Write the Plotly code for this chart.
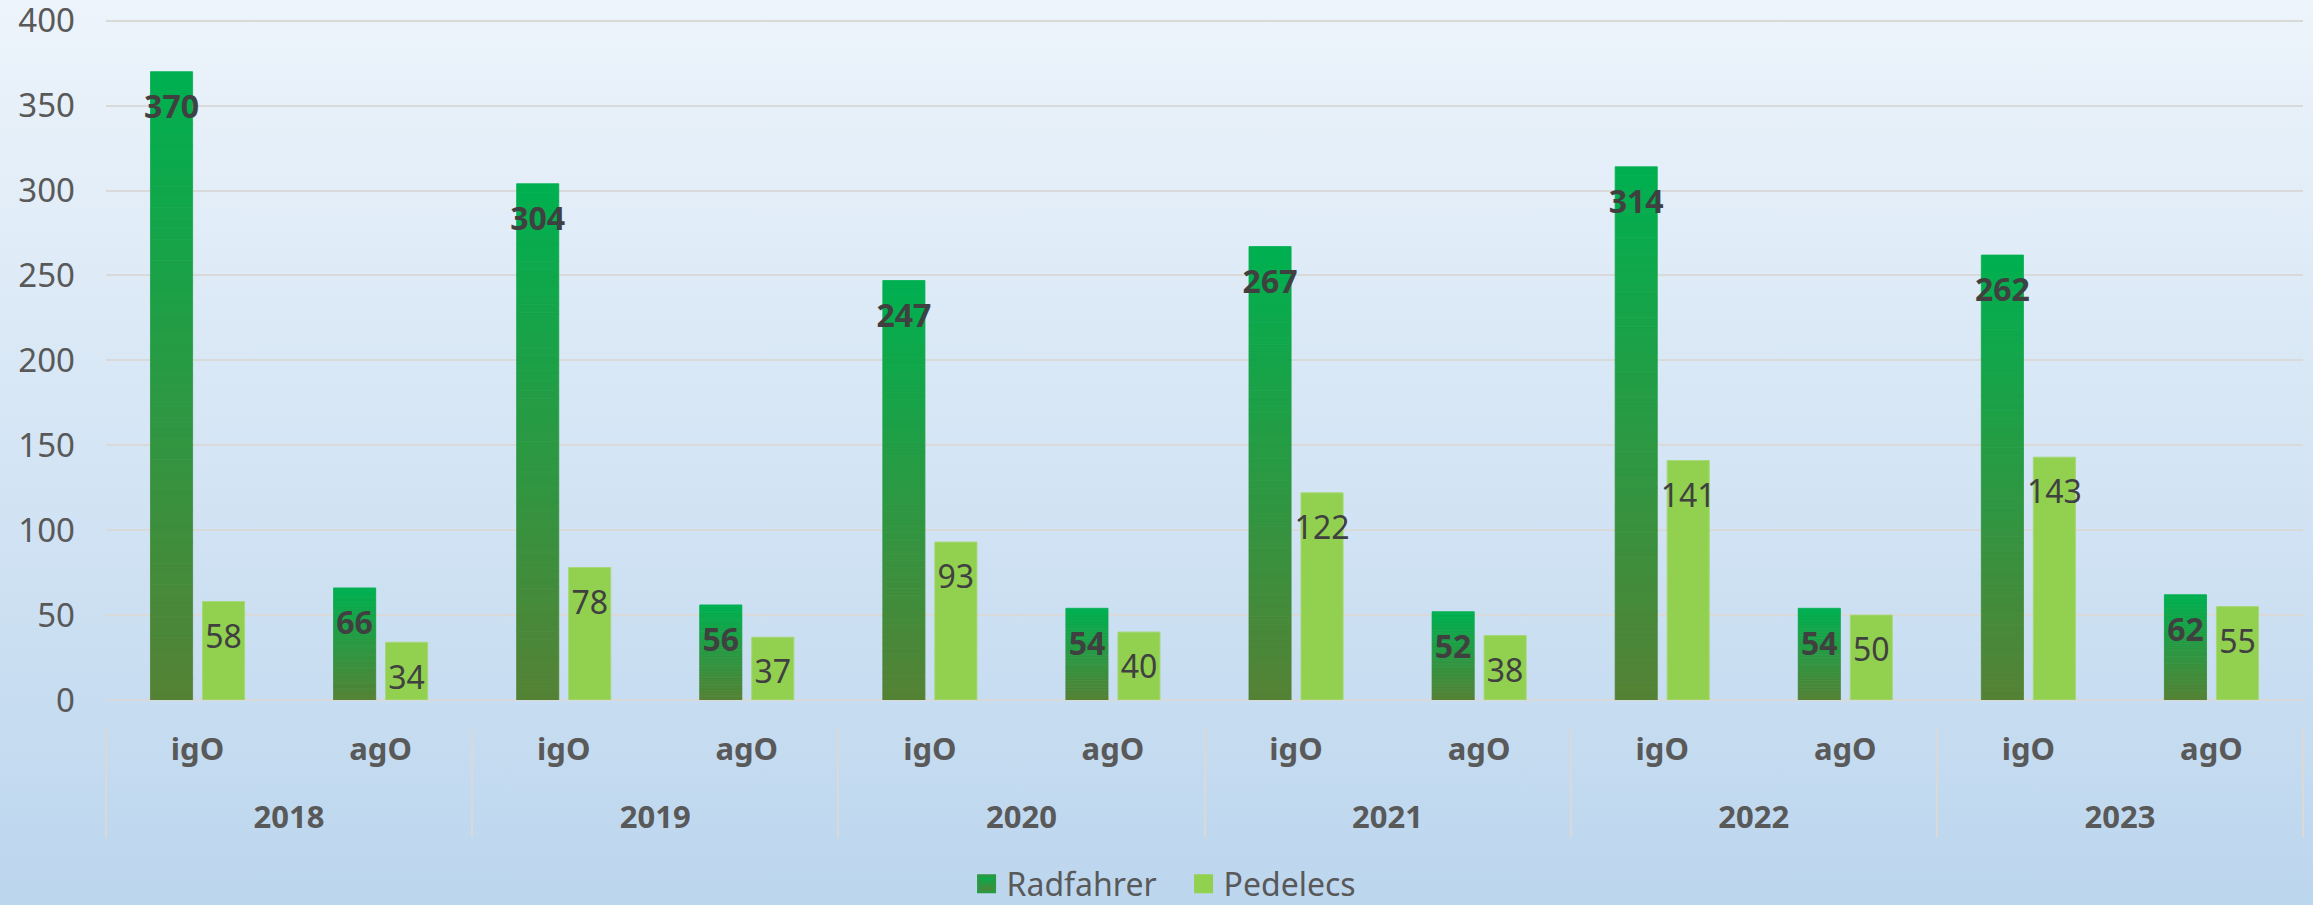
import base64
import plotly.graph_objects as go

# ---------------- data ----------------
years = ["2018", "2019", "2020", "2021", "2022", "2023"]
locations = ["igO", "agO"]
radfahrer = [370, 66, 304, 56, 247, 54, 267, 52, 314, 54, 262, 62]
pedelecs = [58, 34, 78, 37, 93, 40, 122, 38, 141, 50, 143, 55]
series_names = ["Radfahrer", "Pedelecs"]
y_ticks = [0, 50, 100, 150, 200, 250, 300, 350, 400]

# ---------------- style ----------------
W, H = 2313, 905
ML, MR, MT, MB = 106, 10, 19, 177
PW, PH = W - ML - MR, H - MT - MB
Y_DOMAIN_BOTTOM = 28 / PH          # room between zero line and x labels
FONT = "Noto Sans"
TICK_COLOR = "#595959"
LABEL_COLOR = "#404040"
GRID = "#D9D9D9"
RAD_TOP = (0, 176, 80)
RAD_BOTTOM = (84, 130, 53)
PED_COLOR = "#92D050"
N_SEG = 60
BARGAP = 0.432
# raised blank line under the first-level labels (adds room between the two label rows)
LVL_PAD = "<br><sup>\u00a0</sup>"

x_cat = [[y for y in years for _ in locations], [l + LVL_PAD for _ in years for l in locations]]

fig = go.Figure()


def mix(a, b, t):
    return "rgb(%d,%d,%d)" % tuple(round(a[i] + (b[i] - a[i]) * t) for i in range(3))


# Radfahrer: vertical gradient built from stacked slices of each bar
for k in range(N_SEG):
    t = k / (N_SEG - 1)
    col = mix(RAD_BOTTOM, RAD_TOP, t)
    fig.add_trace(go.Bar(
        x=x_cat,
        y=[v / N_SEG for v in radfahrer],
        base=[v * k / N_SEG for v in radfahrer],
        marker=dict(color=col, line=dict(color=col, width=0.8)),
        offsetgroup="R", alignmentgroup="a",
        showlegend=False, hoverinfo="skip",
    ))

fig.add_trace(go.Bar(
    x=x_cat, y=pedelecs, name=series_names[1],
    marker=dict(color=PED_COLOR, line=dict(color="#A6D87A", width=1)),
    offsetgroup="P", alignmentgroup="a",
    showlegend=False, hoverinfo="skip",
))

# value labels (inside end)
fig.add_trace(go.Scatter(
    x=x_cat, y=radfahrer, mode="markers+text", text=[str(v) for v in radfahrer],
    textposition="bottom center",
    textfont=dict(family=FONT, size=32, color=LABEL_COLOR, weight="bold"),
    marker=dict(size=34, opacity=0),
    offsetgroup="R", alignmentgroup="a", showlegend=False, hoverinfo="skip",
))
fig.add_trace(go.Scatter(
    x=x_cat, y=pedelecs, mode="markers+text", text=[str(v) for v in pedelecs],
    textposition="bottom center",
    textfont=dict(family=FONT, size=32, color=LABEL_COLOR),
    marker=dict(size=34, opacity=0),
    offsetgroup="P", alignmentgroup="a", showlegend=False, hoverinfo="skip",
))

# legend entries
fig.add_trace(go.Scatter(
    x=[[x_cat[0][0]], [x_cat[1][0]]], y=[None], mode="markers", name=series_names[0],
    marker=dict(symbol="square", size=16, color="rgb(0,176,80)",
                gradient=dict(type="vertical", color="rgb(84,130,53)"),
                line=dict(color="rgb(42,153,66)", width=3)),
    hoverinfo="skip",
))
fig.add_trace(go.Scatter(
    x=[[x_cat[0][0]], [x_cat[1][0]]], y=[None], mode="markers", name=series_names[1],
    marker=dict(symbol="square", size=16, color=PED_COLOR,
                line=dict(color=PED_COLOR, width=3)),
    hoverinfo="skip",
))

svg = (
    f'<svg xmlns="http://www.w3.org/2000/svg" width="{W}" height="{H}" viewBox="0 0 {W} {H}" '
    'preserveAspectRatio="none"><defs><linearGradient id="g" x1="0" y1="0" x2="0" y2="1">'
    '<stop offset="0" stop-color="#EDF4FB"/><stop offset="1" stop-color="#BCD6EE"/>'
    f'</linearGradient></defs><rect width="{W}" height="{H}" fill="url(#g)"/></svg>'
)
src = "data:image/svg+xml;base64," + base64.b64encode(svg.encode()).decode()

fig.update_layout(
    width=W, height=H,
    margin=dict(l=ML, r=MR, t=MT, b=MB, pad=0, autoexpand=False),
    paper_bgcolor="#D3E5F5", plot_bgcolor="rgba(0,0,0,0)",
    barmode="group", bargap=BARGAP, bargroupgap=0.19,
    scattermode="group", scattergap=BARGAP,
    font=dict(family=FONT, color=TICK_COLOR),
    images=[dict(source=src, xref="paper", yref="paper",
                 x=-ML / PW, y=1 + MT / PH, sizex=W / PW, sizey=H / PH,
                 xanchor="left", yanchor="top", sizing="stretch", layer="below")],
    legend=dict(orientation="h", x=0.3917, xanchor="left", y=-0.2200, yanchor="middle",
                font=dict(family=FONT, size=32, color=TICK_COLOR),
                bgcolor="rgba(0,0,0,0)", itemwidth=30,
                entrywidth=172, entrywidthmode="pixels"),
    showlegend=True,
    hovermode=False,
)
fig.update_yaxes(
    domain=[Y_DOMAIN_BOTTOM, 1],
    range=[0, 401], tickvals=y_ticks, showgrid=True, gridcolor=GRID, gridwidth=2,
    zeroline=True, zerolinecolor=GRID, zerolinewidth=2, showline=False,
    tickfont=dict(family=FONT, size=33, color=TICK_COLOR), ticks="",
    ticklabelstandoff=30, ticklabeloverflow="allow",
)
fig.update_xaxes(
    type="multicategory", anchor="free", position=0,
    showdividers=True, dividercolor=GRID, dividerwidth=2,
    tickfont=dict(family=FONT, size=31, color=TICK_COLOR, weight="bold"),
    showgrid=False, showline=False, ticks="",
)

fig.write_html("out.html", config={"displayModeBar": False},
               post_script="document.body.style.margin='0px';")
